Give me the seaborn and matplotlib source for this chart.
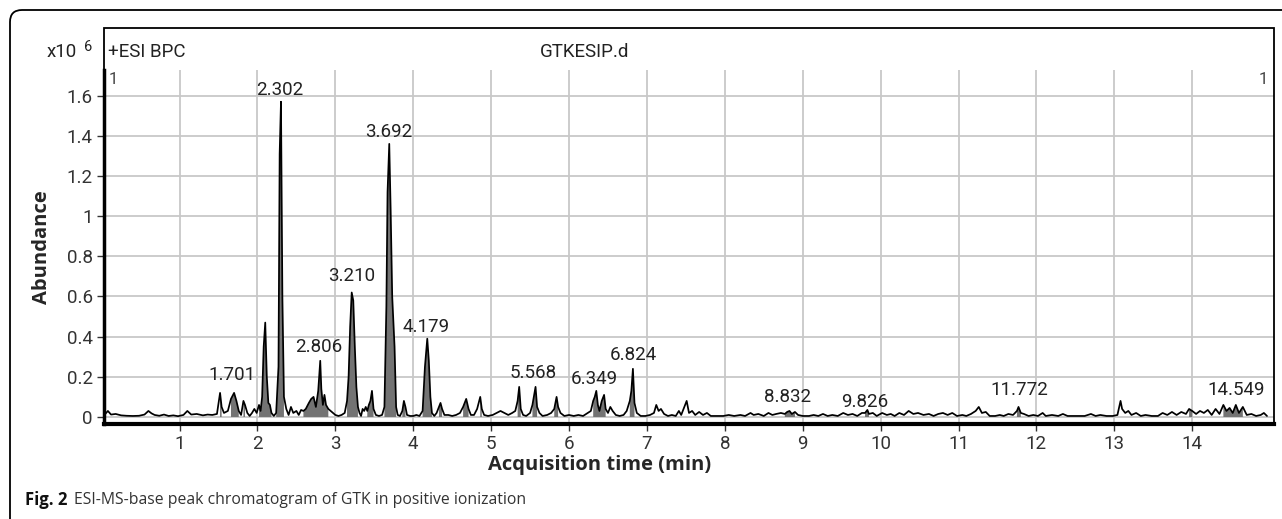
import numpy as np
import pandas as pd
import seaborn as sns
import matplotlib.pyplot as plt
from matplotlib.patches import Rectangle, FancyBboxPatch

# retention time (min) and base peak abundance (x10^6)
time_min = [
    0.03, 0.08, 0.12, 0.18, 0.25, 0.32, 0.40, 0.48, 0.55, 0.60,
    0.64, 0.68, 0.74, 0.80, 0.86, 0.92, 0.98, 1.05, 1.10, 1.15,
    1.22, 1.30, 1.36, 1.42, 1.48, 1.52, 1.54, 1.57, 1.62, 1.66,
    1.70, 1.73, 1.76, 1.79, 1.82, 1.84, 1.87, 1.90, 1.93, 1.96,
    1.99, 2.02, 2.04, 2.06, 2.08, 2.10, 2.12, 2.14, 2.16, 2.18,
    2.21, 2.24, 2.27, 2.285, 2.302, 2.32, 2.34, 2.37, 2.40, 2.43,
    2.46, 2.50, 2.53, 2.56, 2.59, 2.62, 2.66, 2.69, 2.72, 2.75,
    2.78, 2.806, 2.82, 2.84, 2.86, 2.88, 2.91, 2.94, 2.97, 3.00,
    3.04, 3.08, 3.12, 3.15, 3.17, 3.19, 3.21, 3.23, 3.25, 3.27,
    3.29, 3.31, 3.33, 3.35, 3.37, 3.39, 3.41, 3.43, 3.45, 3.47,
    3.49, 3.52, 3.56, 3.60, 3.63, 3.655, 3.67, 3.692, 3.71, 3.73,
    3.76, 3.78, 3.80, 3.83, 3.86, 3.88, 3.90, 3.92, 3.96, 4.00,
    4.04, 4.08, 4.12, 4.15, 4.18, 4.20, 4.22, 4.24, 4.27, 4.30,
    4.33, 4.35, 4.37, 4.40, 4.45, 4.50, 4.55, 4.60, 4.64, 4.68,
    4.71, 4.74, 4.78, 4.82, 4.86, 4.88, 4.91, 4.96, 5.02, 5.07,
    5.12, 5.17, 5.22, 5.27, 5.31, 5.34, 5.36, 5.38, 5.41, 5.45,
    5.50, 5.53, 5.57, 5.59, 5.62, 5.66, 5.72, 5.77, 5.81, 5.84,
    5.86, 5.89, 5.94, 6.00, 6.06, 6.12, 6.18, 6.24, 6.28, 6.31,
    6.33, 6.35, 6.37, 6.39, 6.42, 6.45, 6.47, 6.50, 6.53, 6.56,
    6.60, 6.65, 6.70, 6.74, 6.78, 6.80, 6.82, 6.84, 6.87, 6.92,
    6.98, 7.04, 7.09, 7.12, 7.15, 7.18, 7.22, 7.27, 7.32, 7.37,
    7.41, 7.44, 7.48, 7.51, 7.54, 7.58, 7.62, 7.67, 7.72, 7.77,
    7.82, 7.90, 7.98, 8.05, 8.12, 8.20, 8.26, 8.33, 8.37, 8.43,
    8.50, 8.56, 8.61, 8.66, 8.72, 8.77, 8.80, 8.83, 8.86, 8.90,
    8.94, 9.00, 9.08, 9.14, 9.20, 9.26, 9.32, 9.38, 9.45, 9.52,
    9.58, 9.64, 9.70, 9.76, 9.80, 9.83, 9.85, 9.90, 9.95, 10.02,
    10.08, 10.13, 10.18, 10.24, 10.30, 10.36, 10.42, 10.48, 10.55, 10.62,
    10.68, 10.74, 10.80, 10.86, 10.92, 10.98, 11.05, 11.10, 11.16, 11.22,
    11.26, 11.30, 11.35, 11.40, 11.47, 11.53, 11.58, 11.64, 11.70, 11.75,
    11.77, 11.80, 11.84, 11.90, 11.96, 12.02, 12.08, 12.12, 12.20, 12.28,
    12.34, 12.40, 12.50, 12.62, 12.70, 12.76, 12.82, 12.90, 12.98, 13.04,
    13.08, 13.10, 13.14, 13.18, 13.22, 13.28, 13.34, 13.40, 13.48, 13.56,
    13.62, 13.68, 13.74, 13.80, 13.86, 13.92, 13.96, 14.00, 14.05, 14.10,
    14.15, 14.20, 14.25, 14.30, 14.35, 14.40, 14.44, 14.48, 14.52, 14.56,
    14.60, 14.65, 14.70, 14.76, 14.82, 14.88, 14.92, 14.96,
]
abundance = [
    0.008, 0.030, 0.012, 0.015, 0.008, 0.006, 0.005, 0.006, 0.012, 0.030,
    0.018, 0.010, 0.006, 0.012, 0.005, 0.008, 0.004, 0.010, 0.030, 0.012,
    0.015, 0.008, 0.012, 0.010, 0.015, 0.120, 0.050, 0.020, 0.030, 0.090,
    0.120, 0.080, 0.030, 0.010, 0.080, 0.060, 0.020, 0.005, 0.020, 0.040,
    0.020, 0.060, 0.030, 0.100, 0.350, 0.470, 0.200, 0.070, 0.060, 0.020,
    0.005, 0.020, 0.250, 1.310, 1.570, 0.600, 0.100, 0.040, 0.010, 0.050,
    0.020, 0.030, 0.010, 0.035, 0.030, 0.040, 0.070, 0.090, 0.100, 0.050,
    0.130, 0.280, 0.140, 0.060, 0.110, 0.060, 0.040, 0.030, 0.020, 0.010,
    0.005, 0.010, 0.020, 0.080, 0.200, 0.450, 0.620, 0.580, 0.350, 0.150,
    0.050, 0.020, 0.005, 0.040, 0.030, 0.050, 0.030, 0.060, 0.080, 0.130,
    0.040, 0.010, 0.005, 0.010, 0.050, 0.550, 1.120, 1.360, 1.030, 0.600,
    0.350, 0.050, 0.010, 0.005, 0.030, 0.080, 0.050, 0.010, 0.005, 0.005,
    0.010, 0.005, 0.030, 0.250, 0.390, 0.280, 0.100, 0.020, 0.005, 0.020,
    0.050, 0.070, 0.040, 0.010, 0.010, 0.005, 0.010, 0.020, 0.050, 0.090,
    0.040, 0.010, 0.010, 0.040, 0.100, 0.040, 0.010, 0.005, 0.010, 0.020,
    0.030, 0.020, 0.010, 0.020, 0.030, 0.080, 0.150, 0.040, 0.010, 0.005,
    0.020, 0.060, 0.150, 0.050, 0.020, 0.005, 0.010, 0.020, 0.040, 0.100,
    0.050, 0.020, 0.005, 0.010, 0.005, 0.010, 0.005, 0.020, 0.030, 0.080,
    0.100, 0.130, 0.060, 0.030, 0.080, 0.110, 0.040, 0.020, 0.050, 0.030,
    0.010, 0.005, 0.010, 0.030, 0.080, 0.130, 0.240, 0.070, 0.020, 0.005,
    0.005, 0.010, 0.020, 0.060, 0.030, 0.040, 0.015, 0.005, 0.010, 0.005,
    0.030, 0.010, 0.050, 0.080, 0.020, 0.030, 0.010, 0.025, 0.010, 0.020,
    0.005, 0.005, 0.005, 0.010, 0.005, 0.010, 0.005, 0.020, 0.010, 0.015,
    0.005, 0.020, 0.010, 0.015, 0.020, 0.015, 0.025, 0.030, 0.015, 0.025,
    0.010, 0.005, 0.005, 0.010, 0.005, 0.015, 0.005, 0.010, 0.005, 0.020,
    0.010, 0.015, 0.005, 0.020, 0.020, 0.035, 0.015, 0.020, 0.005, 0.020,
    0.010, 0.015, 0.005, 0.020, 0.010, 0.030, 0.015, 0.020, 0.010, 0.015,
    0.005, 0.015, 0.020, 0.010, 0.020, 0.005, 0.010, 0.005, 0.015, 0.030,
    0.050, 0.020, 0.025, 0.005, 0.005, 0.010, 0.005, 0.015, 0.010, 0.030,
    0.050, 0.020, 0.015, 0.005, 0.010, 0.005, 0.020, 0.005, 0.010, 0.005,
    0.015, 0.005, 0.005, 0.005, 0.015, 0.005, 0.010, 0.005, 0.005, 0.010,
    0.080, 0.040, 0.020, 0.030, 0.010, 0.020, 0.005, 0.010, 0.005, 0.005,
    0.020, 0.010, 0.025, 0.010, 0.025, 0.015, 0.040, 0.030, 0.015, 0.030,
    0.020, 0.035, 0.010, 0.040, 0.015, 0.060, 0.030, 0.045, 0.020, 0.060,
    0.020, 0.050, 0.010, 0.015, 0.005, 0.010, 0.020, 0.005,
]

# integrated peak windows (shaded grey)
fill_windows = [
    (1.49, 1.56), (1.63, 1.78), (1.80, 1.86), (2.00, 2.18), (2.24, 2.36),
    (2.58, 2.92), (3.13, 3.30), (3.40, 3.50), (3.62, 3.78), (3.85, 3.91),
    (4.12, 4.24), (4.31, 4.38), (4.63, 4.72), (4.83, 4.89), (5.32, 5.39),
    (5.52, 5.61), (5.80, 5.88), (6.29, 6.48), (6.76, 6.86), (8.76, 8.92),
    (9.78, 9.88), (11.73, 11.82), (13.94, 14.02), (14.38, 14.66),
]

# peak annotations
peak_labels = ["1.701", "2.302", "2.806", "3.210", "3.692", "4.179", "5.568",
               "6.349", "6.824", "8.832", "9.826", "11.772", "14.549"]
label_x = [1.67, 2.29, 2.79, 3.21, 3.68, 4.17, 5.54, 6.33, 6.82, 8.81, 9.80, 11.78, 14.57]
label_y = [0.21, 1.63, 0.35, 0.70, 1.42, 0.45, 0.22, 0.19, 0.31, 0.10, 0.075, 0.135, 0.135]

y_ticks = [0, 0.2, 0.4, 0.6, 0.8, 1.0, 1.2, 1.4, 1.6]
y_tick_labels = ["0", "0.2", "0.4", "0.6", "0.8", "1", "1.2", "1.4", "1.6"]
x_ticks = list(range(1, 15))

W, H, DPI = 1282, 519, 100


def fx(px):
    return px / W


def fy(py):
    return 1 - py / H


sns.set_style("white")
plt.rcParams['font.family'] = ['Roboto', 'DejaVu Sans']

fig = plt.figure(figsize=(W / DPI, H / DPI), dpi=DPI)
ax = fig.add_axes([fx(104), fy(424), fx(1274) - fx(104), fy(70) - fy(424)])

df = pd.DataFrame({"time": time_min, "abundance": abundance})
sns.lineplot(data=df, x="time", y="abundance", color="black", lw=1.25,
             estimator=None, sort=False, ax=ax, zorder=3)

mask = np.zeros(len(df), dtype=bool)
for lo, hi in fill_windows:
    mask |= ((df["time"] >= lo) & (df["time"] <= hi)).to_numpy()
ax.fill_between(df["time"], 0, df["abundance"], where=mask,
                color="#737373", lw=0, zorder=2)

for s, x, y in zip(peak_labels, label_x, label_y):
    ax.text(x, y, s, ha="center", va="center", fontsize=13.5, color="#222222", zorder=4)

ax.set_xlim(0.03, 15.05)
ax.set_ylim(-0.035, 1.728)
ax.set_xticks(x_ticks)
ax.set_xticklabels([str(v) for v in x_ticks])
ax.set_yticks(y_ticks)
ax.set_yticklabels(y_tick_labels)
ax.grid(True, color="#c8c8c8", lw=1.3)
ax.set_axisbelow(True)
ax.tick_params(axis="both", direction="out", length=5, width=1, colors="#333333",
               labelsize=13.5, bottom=True, left=True, pad=3)

for side in ["top", "right"]:
    ax.spines[side].set_visible(False)
ax.spines["left"].set_linewidth(2.5)
ax.spines["bottom"].set_linewidth(3)
ax.spines["left"].set_color("black")
ax.spines["bottom"].set_color("black")

ax.set_xlabel("Acquisition time (min)", family=["Open Sans", "DejaVu Sans"],
              fontweight="bold", fontsize=14.5, va="center")
ax.xaxis.set_label_coords((600 - 104) / 1170, -(465 - 424) / 354)
ax.set_ylabel("Abundance", family=["Open Sans", "DejaVu Sans"],
              fontweight="bold", fontsize=14.5, va="center")
ax.yaxis.set_label_coords(-(104 - 42) / 1170, 0.5)

# header frame above the plot area
fig.patches.append(Rectangle((fx(104), fy(424)), fx(1274) - fx(104), fy(28) - fy(424),
                             fill=False, ec="black", lw=1.3, transform=fig.transFigure))
fig.text(fx(47), fy(52), "x10", fontsize=13.5, va="center", color="#222222")
fig.text(fx(84), fy(47), "6", fontsize=10.5, va="center", color="#222222")
fig.text(fx(108), fy(52), "+ESI BPC", fontsize=13.5, va="center", color="#222222")
fig.text(fx(540), fy(52), "GTKESIP.d", fontsize=13.5, va="center", color="#222222")
fig.text(fx(109), fy(80), "1", fontsize=12, va="center", color="#444444")
fig.text(fx(1268), fy(80), "1", fontsize=12, va="center", ha="right", color="#444444")

# outer rounded figure box
fig.patches.append(FancyBboxPatch((0.10, -0.5), 13.5, 5.59,
                                  boxstyle="round,pad=0,rounding_size=0.12",
                                  fill=False, ec="black", lw=1.3,
                                  transform=fig.dpi_scale_trans))

fig.text(fx(25), fy(500), "Fig. 2", family=["Open Sans", "DejaVu Sans"],
         fontweight="bold", fontsize=12, va="center", color="#111111")
fig.text(fx(74), fy(500), "ESI-MS-base peak chromatogram of GTK in positive ionization",
         family=["Open Sans", "DejaVu Sans"], fontsize=11.3, va="center", color="#333333")

plt.savefig("out.png", dpi=DPI)
